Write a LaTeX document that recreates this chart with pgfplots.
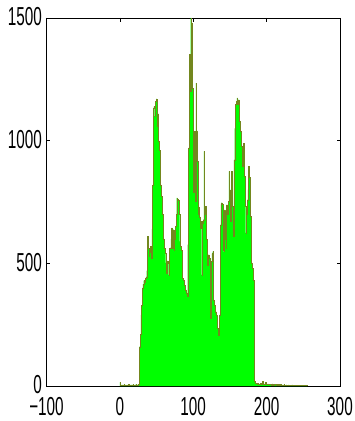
\documentclass[border=0pt]{standalone}
\usepackage{pgfplots}
\pgfplotsset{compat=1.18}
\usepackage{pgfplotstable}
\usepackage{fontspec}
\setmainfont{Liberation Sans}
\usepackage{graphicx}
\definecolor{edgeolive}{RGB}{115,135,30}
\newcommand{\tl}[1]{\scalebox{1}[1.7]{#1}}
\pgfplotstableread{
x y
0 15
1 4
2 5
3 3
4 5
5 4
6 6
7 4
8 5
9 3
10 5
11 4
12 6
13 4
14 5
15 3
16 5
17 4
18 6
19 5
20 4
21 5
22 6
23 4
24 5
25 6
26 8
27 160
28 210
29 290
30 330
31 400
32 415
33 430
34 425
35 440
36 445
37 470
38 610
39 560
40 530
41 545
42 570
43 520
44 640
45 820
46 1134
47 1140
48 1100
49 1160
50 1170
51 1060
52 1110
53 1000
54 960
55 895
56 820
57 773
58 700
59 616
60 600
61 563
62 540
63 502
64 461
65 510
66 502
67 453
68 560
69 563
70 600
71 645
72 560
73 637
74 555
75 600
76 650
77 700
78 767
79 760
80 759
81 700
82 589
83 570
84 555
85 487
86 440
87 433
88 410
89 392
90 392
91 380
92 365
93 576
94 971
95 1351
96 1200
97 1500
98 1480
99 1216
100 1120
101 790
102 1038
103 752
104 1235
105 1040
106 915
107 700
108 727
109 690
110 645
111 670
112 453
113 665
114 678
115 956
116 700
117 732
118 600
119 535
120 494
121 535
122 520
123 400
124 278
125 507
126 540
127 548
128 351
129 330
130 310
131 303
132 290
133 237
134 230
135 208
136 290
137 657
138 740
139 747
140 740
141 555
142 548
143 718
144 600
145 563
146 739
147 700
148 752
149 875
150 800
151 670
152 875
153 850
154 732
155 610
156 922
157 1050
158 1147
159 1160
160 1174
161 1150
162 1167
163 1078
164 1050
165 1038
166 977
167 895
168 980
169 990
170 854
171 732
172 624
173 700
174 759
175 800
176 895
177 850
178 691
179 560
180 502
181 480
182 433
183 176
184 20
185 12
186 10
187 8
188 12
189 7
190 9
191 6
192 10
193 8
194 12
195 18
196 9
197 7
198 10
199 14
200 8
201 6
202 9
203 7
204 8
205 6
206 7
207 5
208 9
209 6
210 5
211 7
212 6
213 5
214 8
215 4
216 6
217 5
218 4
219 6
220 5
221 4
222 5
223 4
224 6
225 4
226 3
227 5
228 4
229 3
230 5
231 4
232 3
233 4
234 3
235 5
236 3
237 4
238 3
239 4
240 3
241 4
242 3
243 3
244 4
245 3
246 3
247 4
248 3
249 3
250 3
251 4
252 3
253 3
254 3
255 4
}\histdata
\begin{document}
\begin{tikzpicture}
\path[use as bounding box] (0,0) rectangle (354pt,421pt);
\begin{axis}[
  at={(46.5pt,35pt)}, anchor=south west,
  scale only axis, width=293.5pt, height=368pt,
  xmin=-100, xmax=300, ymin=0, ymax=1500,
  axis line style={black, line width=0.9pt},
  tick align=inside, tick style={black, line width=0.6pt},
  major tick length=3.5pt,
  xtick={-100,0,100,200,300},
  xticklabels={\tl{−100},\tl{0},\tl{100},\tl{200},\tl{300}},
  ytick={0,500,1000,1500},
  yticklabels={\tl{0},\tl{500},\tl{1000},\tl{1500}},
  ticklabel style={font=\fontsize{15.3}{16}\selectfont, inner sep=0.5pt},
  xticklabel style={yshift=-11pt},
  yticklabel style={xshift=-4pt, yshift=1pt},
  clip=true,
]
\addplot[fill=green, draw=none, const plot mark mid] table[x=x,y=y] {\histdata} \closedcycle;
\addplot[edgeolive, line width=0.3pt, const plot mark mid] table[x=x,y=y] {\histdata};
\end{axis}
\end{tikzpicture}
\end{document}
